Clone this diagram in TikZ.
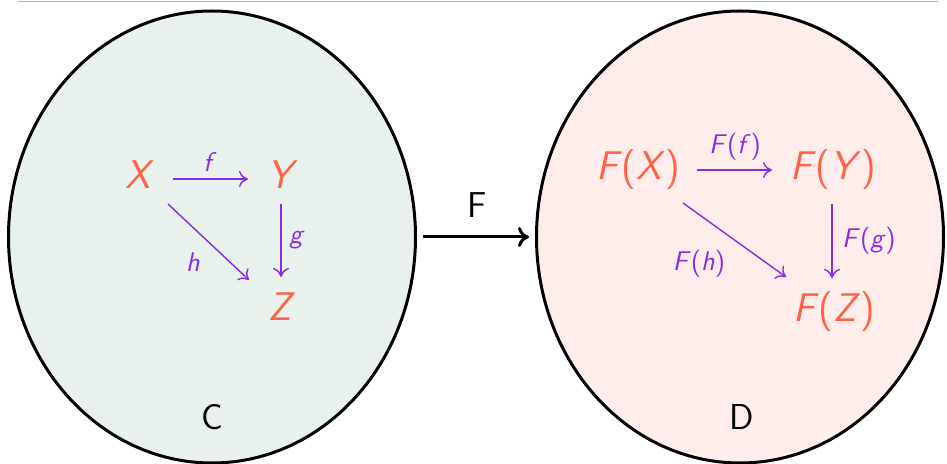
\documentclass[tikz,border=0pt]{standalone}
\usepackage{fontspec}
\usetikzlibrary{arrows.meta,calc,shapes.geometric}
\definecolor{nodeorange}{RGB}{255,99,71}
\definecolor{arrpurple}{RGB}{138,43,226}
\definecolor{cfill}{RGB}{232,241,236}
\definecolor{dfill}{RGB}{255,237,235}
\newcommand{\mv}[1]{\textsl{#1}}
\begin{document}
\begin{tikzpicture}[x=0.5pt,y=-0.5pt,
  obj/.style={text=nodeorange,font=\sffamily\fontsize{20}{23}\selectfont,inner sep=0pt},
  mor/.style={draw=arrpurple,line width=0.7pt,-{To[length=4.5pt,width=8pt]}},
  lab/.style={text=arrpurple,font=\sffamily\fontsize{13.5}{16}\selectfont,inner sep=0pt},
  catshape/.style={ellipse,draw=black,line width=1.5pt,minimum width=203.5pt,minimum height=226pt,inner sep=0pt,outer sep=0pt},
  big/.style={font=\sffamily\fontsize{18}{21}\selectfont,inner sep=0pt}]
\useasboundingbox (0,0) rectangle (947,464);
\draw[gray!60,line width=0.5pt] (18,2) -- (938,2);
\node[catshape,fill=cfill] (C) at (212,237) {};
\node[catshape,fill=dfill] (D) at (740,237) {};
\node[big] (Clab) at (212,417) {C};
\node[big] (Dlab) at (742,417) {D};
\draw[line width=1.5pt,-{To[length=5.5pt,width=10pt]},shorten <=3.75pt,shorten >=3.75pt] (C.east) -- (D.west);
\node[big] (Flab) at (477,205) {F};
% left diagram
\node[obj] (X) at (140,175) {\mv{X}};
\node[obj] (Y) at (283,175) {\mv{Y}};
\node[obj] (Z) at (282,307) {\mv{Z}};
\draw[mor] ($(X)+(33,4)$) -- ($(Y)+(-35,4)$);
\draw[mor] ($(Y)+(-2,29)$) -- ($(Z)+(-1,-30)$);
\draw[mor] ($(X)+(28,29)$) -- ($(Z)+(-33,-27)$);
\node[lab] (fl) at (210,162) {\mv{f}};
\node[lab] (gl) at (297,240) {\mv{g}};
\node[lab] (hl) at (193,262) {\mv{h}};
% right diagram
\node[obj] (FX) at (638,170) {\mv{F}(\mv{X})};
\node[obj] (FY) at (833,170) {\mv{F}(\mv{Y})};
\node[obj] (FZ) at (834,312) {\mv{F}(\mv{Z})};
\draw[mor] ($(FX)+(59,0)$) -- ($(FY)+(-61,0)$);
\draw[mor] ($(FY)+(-1,34)$) -- ($(FZ)+(-2,-34)$);
\draw[mor] ($(FX)+(45,33)$) -- ($(FZ)+(-48,-35)$);
\node[lab] (Ffl) at (735,147) {\mv{F}(\mv{f})};
\node[lab] (Fgl) at (869,241) {\mv{F}(\mv{g})};
\node[lab] (Fhl) at (699,264) {\mv{F}(\mv{h})};
\end{tikzpicture}
\end{document}
